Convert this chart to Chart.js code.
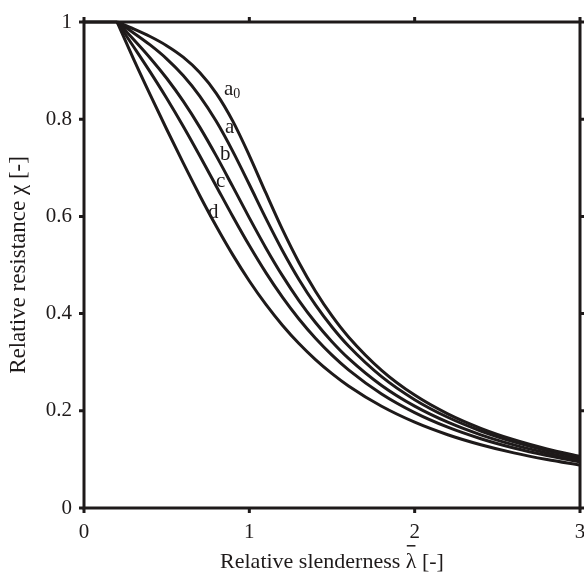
<!DOCTYPE html>
<html>
<head>
<meta charset="utf-8">
<script src="https://cdn.jsdelivr.net/npm/chart.js@4.4.1/dist/chart.umd.min.js"></script>
<style>
  html, body { margin: 0; padding: 0; background: #ffffff; }
  #wrap { width: 584px; height: 575px; }
</style>
</head>
<body>
<div id="wrap"><canvas id="bucklingChart" width="584" height="575"></canvas></div>
<script>
// Reduction factor chi vs. relative slenderness, buckling curves a0, a, b, c, d
const lambdaValues = [0.2, 0.3, 0.4, 0.5, 0.6, 0.7, 0.8, 0.9, 1.0, 1.1, 1.2, 1.3, 1.4, 1.5, 1.6, 1.8, 2.0, 2.2, 2.4, 2.6, 2.8, 3.0];
const chiA0 = [1, 0.9859, 0.9701, 0.9513, 0.9276, 0.8961, 0.8533, 0.7961, 0.7253, 0.6482, 0.5732, 0.5053, 0.4461, 0.3953, 0.3520, 0.2833, 0.2323, 0.1937, 0.1639, 0.1404, 0.1216, 0.1063];
const chiA  = [1, 0.9775, 0.9528, 0.9243, 0.8900, 0.8477, 0.7957, 0.7339, 0.6656, 0.5960, 0.5300, 0.4703, 0.4179, 0.3724, 0.3332, 0.2702, 0.2229, 0.1867, 0.1585, 0.1362, 0.1182, 0.1036];
const chiB  = [1, 0.9641, 0.9261, 0.8842, 0.8371, 0.7837, 0.7245, 0.6612, 0.5970, 0.5352, 0.4781, 0.4269, 0.3817, 0.3422, 0.3079, 0.2521, 0.2095, 0.1765, 0.1506, 0.1299, 0.1132, 0.0994];
const chiC  = [1, 0.9491, 0.8973, 0.8430, 0.7854, 0.7247, 0.6622, 0.5998, 0.5399, 0.4842, 0.4338, 0.3888, 0.3492, 0.3145, 0.2842, 0.2345, 0.1962, 0.1662, 0.1425, 0.1234, 0.1079, 0.0951];
const chiD  = [1, 0.9235, 0.8504, 0.7793, 0.7100, 0.6431, 0.5797, 0.5208, 0.4671, 0.4189, 0.3762, 0.3385, 0.3055, 0.2766, 0.2512, 0.2093, 0.1766, 0.1508, 0.1302, 0.1134, 0.0997, 0.0882];

// plateau chi = 1 up to lambda = 0.2
const plateauLambda = [0, 0.2];
const plateauChi = [1, 1];

const curveNames = ['a0', 'a', 'b', 'c', 'd'];
const curveSeries = [chiA0, chiA, chiB, chiC, chiD];

const xTicks = [0, 1, 2, 3];
const yTicks = [0, 0.2, 0.4, 0.6, 0.8, 1];

const INK = '#1e1a1a';
const SERIF = "'Liberation Serif', 'Times New Roman', serif";
const X_TITLE_HEAD = 'Relative slenderness ';
const X_TITLE = X_TITLE_HEAD + '\u03BB [-]';
const TITLE_SIZE = 22;

function toPoints(xs, ys) {
    return xs.map((x, i) => ({ x: x, y: ys[i] }));
}

const datasets = curveSeries.map((series, i) => ({
    label: curveNames[i],
    data: toPoints(lambdaValues, series),
    borderColor: INK,
    borderWidth: 3,
    pointRadius: 0,
    fill: false,
    cubicInterpolationMode: 'monotone',
    clip: 6
}));
datasets.push({
    label: 'plateau',
    data: toPoints(plateauLambda, plateauChi),
    borderColor: INK,
    borderWidth: 3,
    pointRadius: 0,
    fill: false,
    clip: 6
});

// Box frame with outward tick marks on all four sides, curve names, macron over lambda
const framePlugin = {
    id: 'frameAndLabels',
    afterDatasetsDraw(chart) {
        const { ctx, chartArea: a, scales } = chart;
        ctx.save();
        ctx.strokeStyle = INK;
        ctx.lineWidth = 3;
        ctx.strokeRect(a.left, a.top, a.right - a.left, a.bottom - a.top);

        const len = 5;
        ctx.beginPath();
        xTicks.forEach(v => {
            const px = scales.x.getPixelForValue(v);
            ctx.moveTo(px, a.bottom); ctx.lineTo(px, a.bottom + len);
            ctx.moveTo(px, a.top); ctx.lineTo(px, a.top - len);
        });
        yTicks.forEach(v => {
            const py = scales.y.getPixelForValue(v);
            ctx.moveTo(a.left, py); ctx.lineTo(a.left - len, py);
            ctx.moveTo(a.right, py); ctx.lineTo(a.right + len, py);
        });
        ctx.stroke();

        // curve names next to each line (left edge, baseline)
        const spots = [
            { name: 'a', sub: '0', x: 0.847, y: 0.850 },
            { name: 'a', sub: '', x: 0.853, y: 0.772 },
            { name: 'b', sub: '', x: 0.823, y: 0.716 },
            { name: 'c', sub: '', x: 0.798, y: 0.660 },
            { name: 'd', sub: '', x: 0.750, y: 0.597 }
        ];
        ctx.fillStyle = INK;
        ctx.textBaseline = 'alphabetic';
        ctx.textAlign = 'left';
        spots.forEach(s => {
            const px = scales.x.getPixelForValue(s.x);
            const py = scales.y.getPixelForValue(s.y);
            ctx.font = '21px ' + SERIF;
            ctx.fillText(s.name, px, py);
            if (s.sub) {
                const w = ctx.measureText(s.name).width;
                ctx.font = '14px ' + SERIF;
                ctx.fillText(s.sub, px + w, py + 3);
            }
        });

        // bar over lambda in the x-axis title
        ctx.font = TITLE_SIZE + 'px ' + SERIF;
        const full = ctx.measureText(X_TITLE).width;
        const head = ctx.measureText(X_TITLE_HEAD).width;
        const lam = ctx.measureText('\u03BB').width;
        const cx = (scales.x.left + scales.x.right) / 2;
        const ty = chart.height - TITLE_SIZE * 1.2 / 2;
        const lx = cx - full / 2 + head;
        ctx.lineWidth = 1.5;
        ctx.beginPath();
        ctx.moveTo(lx + 1, ty - 16);
        ctx.lineTo(lx + lam - 1, ty - 16);
        ctx.stroke();
        ctx.restore();
    }
};

const ctx = document.getElementById('bucklingChart').getContext('2d');
const bucklingChart = new Chart(ctx, {
    type: 'line',
    data: { datasets: datasets },
    options: {
        responsive: false,
        animation: false,
        events: [],
        layout: { padding: { top: 22, right: 4, left: 0, bottom: 0 } },
        plugins: {
            legend: { display: false },
            tooltip: { enabled: false }
        },
        scales: {
            x: {
                type: 'linear',
                min: 0,
                max: 3,
                afterFit: scale => {
                    scale.height = 67;
                    scale.paddingLeft = 0;
                    scale.paddingRight = 0;
                },
                afterBuildTicks: scale => { scale.ticks = xTicks.map(v => ({ value: v })); },
                grid: { display: false, drawTicks: false },
                border: { display: false },
                ticks: {
                    padding: 12,
                    maxRotation: 0,
                    color: INK,
                    font: { family: SERIF, size: 21 },
                    callback: v => String(v)
                },
                title: {
                    display: true,
                    text: X_TITLE,
                    color: INK,
                    font: { family: SERIF, size: TITLE_SIZE },
                    padding: { top: 0, bottom: 0 }
                }
            },
            y: {
                type: 'linear',
                min: 0,
                max: 1,
                afterFit: scale => {
                    scale.width = 84;
                    scale.paddingTop = 0;
                    scale.paddingBottom = 0;
                },
                afterBuildTicks: scale => { scale.ticks = yTicks.map(v => ({ value: v })); },
                grid: { display: false, drawTicks: false },
                border: { display: false },
                ticks: {
                    padding: 12,
                    color: INK,
                    font: { family: SERIF, size: 21 },
                    callback: v => String(v)
                },
                title: {
                    display: true,
                    text: 'Relative resistance \u03C7 [-]',
                    color: INK,
                    font: { family: SERIF, size: 23 },
                    padding: { top: 5, bottom: 0 }
                }
            }
        }
    },
    plugins: [framePlugin]
});
</script>
</body>
</html>
